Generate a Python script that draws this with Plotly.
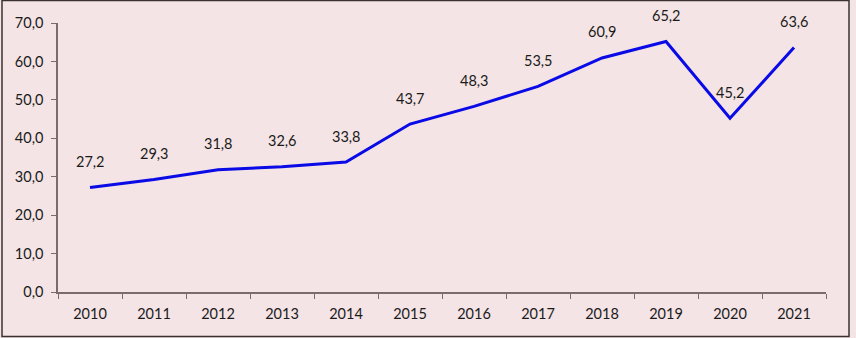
import plotly.graph_objects as go

years = ["2010", "2011", "2012", "2013", "2014", "2015", "2016", "2017", "2018", "2019", "2020", "2021"]
values = [27.2, 29.3, 31.8, 32.6, 33.8, 43.7, 48.3, 53.5, 60.9, 65.2, 45.2, 63.6]
y_ticks = [0, 10, 20, 30, 40, 50, 60, 70]

W, H = 856, 338
ml, mr, mt, mb = 58, 30, 23, 46
pw, ph = W - ml - mr, H - mt - mb

fig = go.Figure()
fig.add_trace(go.Scatter(x=years, y=values, mode="lines",
                         line=dict(color="#0a0ae6", width=3), hoverinfo="skip"))

for i, v in enumerate(values):
    fig.add_annotation(x=i, y=v, text=f"{v:.1f}".replace(".", ","), showarrow=False,
                       yshift=26, font=dict(family="Lato, Carlito, sans-serif", size=14.5, color="#1a1a1a"))

# outer frame
fig.add_shape(type="rect", xref="paper", yref="paper",
              x0=(2 - ml) / pw, x1=(849 - ml) / pw,
              y0=(H - 336.5 - mb) / ph, y1=(H - 0.5 - mb) / ph,
              line=dict(color="#3a3232", width=1.5), fillcolor="rgba(0,0,0,0)")

fig.update_layout(
    width=W, height=H,
    margin=dict(l=ml, r=mr, t=mt, b=mb),
    paper_bgcolor="#f4e4e5", plot_bgcolor="#f4e4e5",
    separators=",.",
    showlegend=False,
    font=dict(family="Lato, Carlito, sans-serif", size=14.5, color="#1a1a1a"),
)
fig.update_xaxes(type="category", categoryorder="array", categoryarray=years,
                 range=[-0.5, len(years) - 0.5], autorange=False,
                 showgrid=False, showline=True, linecolor="#7a6c6d", linewidth=1.5,
                 ticks="outside", tickson="boundaries", ticklen=5, tickcolor="#7a6c6d",
                 tickangle=0, ticklabelstandoff=8, zeroline=False)
fig.update_yaxes(range=[0, 70], tickvals=y_ticks, tickformat=".1f",
                 showgrid=False, showline=True, linecolor="#7a6c6d", linewidth=1.5,
                 ticks="outside", ticklen=5, tickcolor="#7a6c6d",
                 ticklabelstandoff=5, zeroline=False)

fig.write_html("out.html", config={"displayModeBar": False},
               post_script="document.body.style.margin='0';document.body.style.overflow='hidden';")
